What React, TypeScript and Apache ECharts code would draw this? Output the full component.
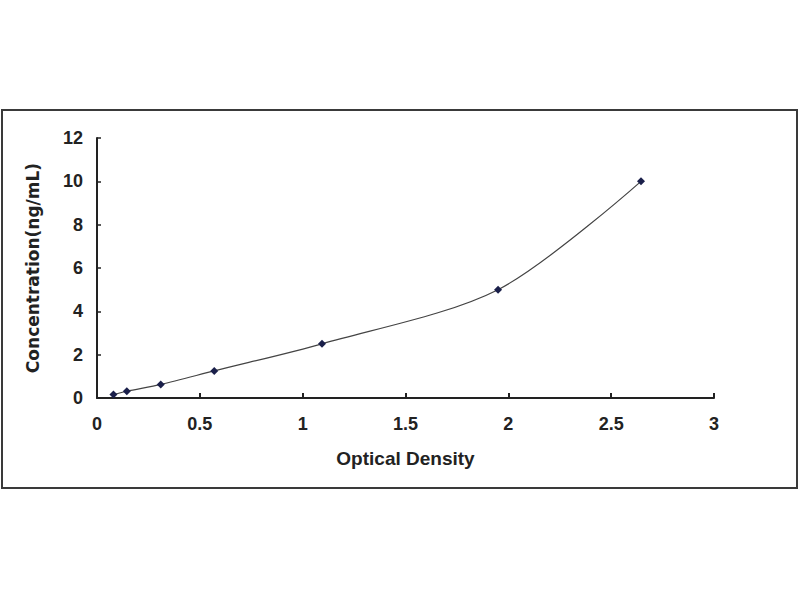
import { useEffect, useRef } from 'react';
import * as echarts from 'echarts';

// standard curve points
const opticalDensity = [0.08, 0.145, 0.31, 0.57, 1.094, 1.95, 2.645];
const concentration = [0.156, 0.312, 0.625, 1.25, 2.5, 5, 10];

const xTicks = [0, 0.5, 1, 1.5, 2, 2.5, 3];
const yTicks = [0, 2, 4, 6, 8, 10, 12];

const FONT = 'Arial, "Liberation Sans", sans-serif';
const WIDE_FONT = '"DejaVu Sans", Arial, sans-serif';

const App: React.FC = () => {
  const chartRef = useRef<HTMLDivElement>(null);

  useEffect(() => {
    if (!chartRef.current) return;
    const chart = echarts.init(chartRef.current, undefined, { renderer: 'svg' });

    const points = opticalDensity.map((x, i) => [x, concentration[i]]);

    chart.setOption({
      animation: false,
      backgroundColor: '#ffffff',
      grid: { left: 97, right: 86, top: 138, bottom: 202 },
      graphic: [
        {
          type: 'rect',
          shape: { x: 2, y: 110, width: 795, height: 378 },
          style: { fill: 'none', stroke: '#3a3a3a', lineWidth: 2 },
          silent: true
        }
      ],
      xAxis: {
        type: 'value',
        min: xTicks[0],
        max: xTicks[xTicks.length - 1],
        interval: 0.5,
        name: 'Optical Density',
        nameLocation: 'middle',
        nameGap: 51,
        nameTextStyle: { color: '#222', fontSize: 19, fontWeight: 'bold', fontFamily: FONT },
        axisLine: { show: true, lineStyle: { color: '#222', width: 2 } },
        axisTick: { show: true, inside: true, length: 5, lineStyle: { color: '#222', width: 2 } },
        axisLabel: { color: '#222', fontSize: 18, fontWeight: 'bold', fontFamily: FONT, margin: 17 },
        splitLine: { show: false }
      },
      yAxis: {
        type: 'value',
        min: yTicks[0],
        max: yTicks[yTicks.length - 1],
        interval: 2,
        name: 'Concentration(ng/mL)',
        nameLocation: 'middle',
        nameGap: 56,
        nameTextStyle: { color: '#222', fontSize: 17, fontWeight: 'bold', fontFamily: WIDE_FONT },
        axisLine: { show: true, lineStyle: { color: '#222', width: 2 } },
        axisTick: { show: true, inside: true, length: 4, lineStyle: { color: '#222', width: 1.5 } },
        axisLabel: { color: '#222', fontSize: 18, fontWeight: 'bold', fontFamily: FONT, margin: 14 },
        splitLine: { show: false }
      },
      series: [
        {
          type: 'line',
          data: points,
          smooth: 0.3,
          symbol: 'diamond',
          symbolSize: 8,
          itemStyle: { color: '#1a1f4a' },
          lineStyle: { color: '#444', width: 1.2 }
        }
      ]
    });

    return () => {
      chart.dispose();
    };
  }, []);

  return (
    <div
      ref={chartRef}
      style={{ position: 'absolute', left: 0, top: 0, width: '800px', height: '600px' }}
    />
  );
};

export default App;
